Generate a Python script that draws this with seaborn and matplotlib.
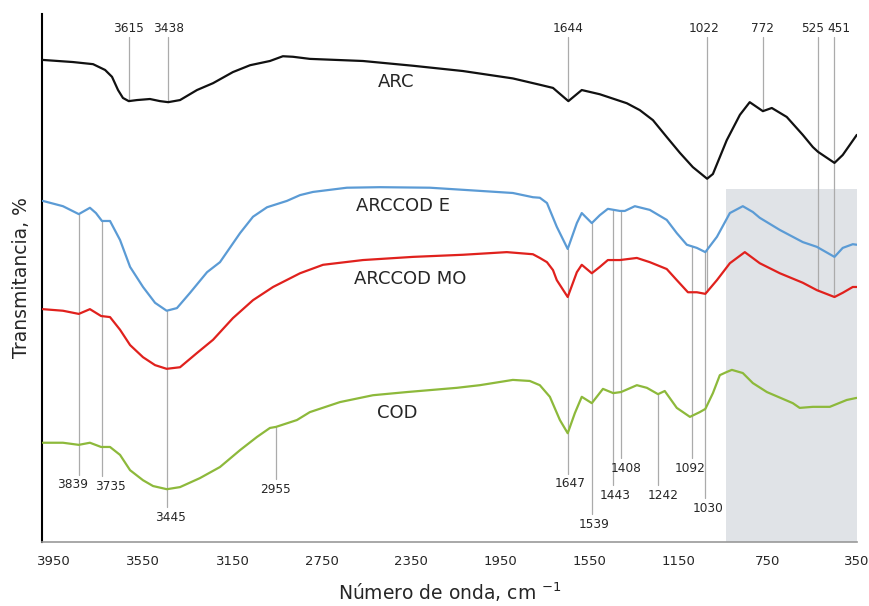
import numpy as np
import pandas as pd
import seaborn as sns
import matplotlib
matplotlib.use("Agg")
import matplotlib.pyplot as plt

sns.set_style("white")
plt.rcParams['font.family'] = ['DejaVu Sans']

# espectros (numero de onda, transmitancia relativa)
arc_wn = [4000, 3865, 3775, 3721, 3690, 3663, 3641, 3615, 3578, 3520, 3475, 3438, 3385,
          3309, 3237, 3148, 3071, 2982, 2924, 2879, 2803, 2565, 2341, 2117, 1893, 1772,
          1713, 1644, 1584, 1503, 1382, 1324, 1265, 1203, 1144, 1086, 1022, 996, 934,
          875, 831, 772, 732, 665, 593, 548, 525, 451, 414, 351]
arc_t = [91.3, 90.9, 90.5, 89.4, 88.1, 85.6, 84.1, 83.5, 83.7, 83.9, 83.5, 83.3, 83.7,
         85.6, 86.9, 89.0, 90.3, 91.1, 92.0, 91.9, 91.5, 91.1, 90.2, 89.2, 87.8, 86.6,
         86.0, 83.5, 85.6, 84.8, 83.1, 81.8, 79.9, 76.7, 73.7, 71.0, 68.8, 69.7, 76.1,
         80.9, 83.3, 81.6, 82.2, 80.5, 77.1, 74.8, 73.9, 71.8, 73.3, 77.1]

e_wn = [4000, 3910, 3839, 3789, 3762, 3735, 3699, 3654, 3609, 3551, 3497, 3445, 3399,
        3340, 3264, 3206, 3116, 3058, 2995, 2906, 2847, 2789, 2637, 2489, 2265, 2041,
        1893, 1803, 1772, 1740, 1696, 1647, 1606, 1584, 1539, 1503, 1467, 1413, 1391,
        1346, 1279, 1203, 1158, 1113, 1068, 1030, 978, 920, 862, 817, 786, 696, 593,
        530, 451, 414, 369, 351]
e_t = [64.6, 63.6, 62.1, 63.3, 62.3, 60.8, 60.8, 57.2, 52.1, 48.3, 45.3, 43.8, 44.3,
       47.2, 51.1, 53.0, 58.5, 61.6, 63.4, 64.6, 65.7, 66.3, 67.1, 67.2, 67.1, 66.5,
       66.1, 65.3, 65.2, 64.2, 59.7, 55.5, 60.4, 62.3, 60.4, 61.9, 63.1, 62.7, 62.7,
       63.6, 62.9, 61.0, 58.5, 56.3, 55.7, 54.9, 57.8, 62.3, 63.6, 62.5, 61.4, 59.1,
       56.8, 55.9, 54.0, 55.7, 56.4, 56.3]

mo_wn = [4000, 3910, 3839, 3789, 3739, 3699, 3654, 3609, 3551, 3497, 3445, 3385, 3309,
         3237, 3148, 3058, 2968, 2847, 2744, 2565, 2341, 2117, 1920, 1803, 1772, 1740,
         1713, 1696, 1647, 1606, 1584, 1539, 1503, 1467, 1413, 1337, 1279, 1203, 1158,
         1108, 1068, 1030, 978, 920, 853, 786, 696, 593, 530, 451, 414, 369, 351]
mo_t = [44.1, 43.8, 43.2, 44.1, 42.8, 42.6, 40.2, 37.3, 35.0, 33.5, 32.8, 33.1, 35.8,
        38.3, 42.4, 45.8, 48.3, 50.9, 52.5, 53.4, 54.0, 54.4, 54.9, 54.5, 53.8, 53.0,
        51.5, 49.6, 46.4, 51.1, 52.5, 50.9, 52.1, 53.4, 53.4, 53.8, 53.0, 51.7, 49.6,
        47.3, 47.3, 47.0, 49.6, 52.8, 54.9, 52.8, 50.9, 49.1, 47.7, 46.4, 47.2, 48.3, 48.3]

cod_wn = [4000, 3910, 3839, 3789, 3739, 3699, 3654, 3609, 3551, 3506, 3444, 3385, 3296,
          3206, 3116, 3040, 2982, 2955, 2861, 2803, 2668, 2520, 2368, 2144, 2041, 1893,
          1817, 1772, 1727, 1682, 1647, 1615, 1584, 1539, 1489, 1443, 1408, 1337, 1292,
          1242, 1212, 1158, 1099, 1055, 1030, 996, 965, 934, 911, 862, 817, 754, 638,
          607, 548, 472, 396, 351]
cod_t = [18.8, 18.8, 18.4, 18.8, 18.0, 18.0, 16.5, 13.6, 11.7, 10.6, 10.0, 10.4, 12.1,
         14.2, 17.4, 19.9, 21.6, 21.8, 23.1, 24.6, 26.5, 27.8, 28.4, 29.2, 29.7, 30.7,
         30.5, 29.7, 27.5, 23.1, 20.6, 24.4, 27.5, 26.3, 29.0, 28.2, 28.4, 29.7, 29.2,
         28.0, 28.6, 25.4, 23.7, 24.6, 25.2, 28.2, 31.6, 32.2, 32.6, 32.0, 30.1, 28.4,
         26.3, 25.4, 25.6, 25.6, 26.9, 27.3]

muestras = ['ARC', 'ARCCOD E', 'ARCCOD MO', 'COD']
colores = ['#111111', '#5b9bd5', '#e0211d', '#8db93b']

# picos marcados
top_peaks = [3615, 3438, 1644, 1022, 772, 525, 451]
top_curve = ['ARC', 'ARC', 'ARC', 'ARCCOD MO', 'ARC', 'ARCCOD MO', 'ARCCOD MO']
top_label_dx = [0, 0, 0, 14, 0, 24, -18]
bottom_peaks = [3839, 3735, 3445, 2955, 1647, 1539, 1443, 1408, 1242, 1092, 1030]
bottom_curve = ['ARCCOD E', 'ARCCOD E', 'ARCCOD E', 'COD', 'ARCCOD E', 'ARCCOD E',
                'ARCCOD E', 'ARCCOD E', 'COD', 'ARCCOD E', 'ARCCOD E']
bottom_label_t = [10.8, 10.6, 4.7, 10.0, 11.0, 3.4, 8.9, 14.0, 8.9, 14.0, 6.4]
bottom_label_dx = [27, -36, -18, 0, -12, -10, -8, -25, -22, 8, -14]

xticks = [3950, 3550, 3150, 2750, 2350, 1950, 1550, 1150, 750, 350]

curves = {'ARC': (arc_wn, arc_t), 'ARCCOD E': (e_wn, e_t),
          'ARCCOD MO': (mo_wn, mo_t), 'COD': (cod_wn, cod_t)}
frames = []
for name in muestras:
    wn, t = curves[name]
    frames.append(pd.DataFrame({'wn': wn, 't': t, 'muestra': name}))
df = pd.concat(frames, ignore_index=True)


def curve_at(name, x):
    wn, t = curves[name]
    return np.interp(x, wn[::-1], t[::-1])


fig = plt.figure(figsize=(8.69, 6.06), dpi=100)
ax = fig.add_axes([0.0483, 0.1056, 0.9379, 0.8713])

ax.axvspan(350, 938, ymin=0, ymax=0.669, color='#e0e3e7', lw=0, zorder=0)

sns.lineplot(data=df, x='wn', y='t', hue='muestra', palette=dict(zip(muestras, colores)),
             sort=False, estimator=None, legend=False, lw=1.6, ax=ax, zorder=3)

line_kw = dict(color='#ababab', lw=0.9, zorder=2)
for p, c, dx in zip(top_peaks, top_curve, top_label_dx):
    ax.plot([p, p], [95.6, curve_at(c, p)], **line_kw)
    ax.text(p + dx, 97.3, str(p), ha='center', va='center', fontsize=8.7)
for p, c, ly, dx in zip(bottom_peaks, bottom_curve, bottom_label_t, bottom_label_dx):
    ax.plot([p, p], [curve_at(c, p), ly + 1.9], **line_kw)
    ax.text(p + dx, ly, str(p), ha='center', va='center', fontsize=8.7)

ax.text(2417, 87.1, 'ARC', ha='center', va='center', fontsize=13)
ax.text(2386, 63.6, 'ARCCOD E', ha='center', va='center', fontsize=13)
ax.text(2354, 49.8, 'ARCCOD MO', ha='center', va='center', fontsize=13)
ax.text(2413, 24.4, 'COD', ha='center', va='center', fontsize=13)

ax.set_xlim(4004, 350)
ax.set_ylim(0, 100)
ax.set_xticks(xticks)
ax.set_yticks([])
ax.tick_params(axis='x', direction='in', length=4, color='#999999', labelsize=9.5, pad=9)
for s in ['top', 'right']:
    ax.spines[s].set_visible(False)
ax.spines['left'].set_color('black')
ax.spines['left'].set_linewidth(1.5)
ax.spines['bottom'].set_color('#999999')
ax.spines['bottom'].set_linewidth(1.2)

ax.set_xlabel('Número de onda, cm $^{-1}$', fontsize=13.5, labelpad=9)
ax.set_ylabel('Transmitancia, %', fontsize=13.5, labelpad=8)

fig.savefig('out.png', dpi=100)
